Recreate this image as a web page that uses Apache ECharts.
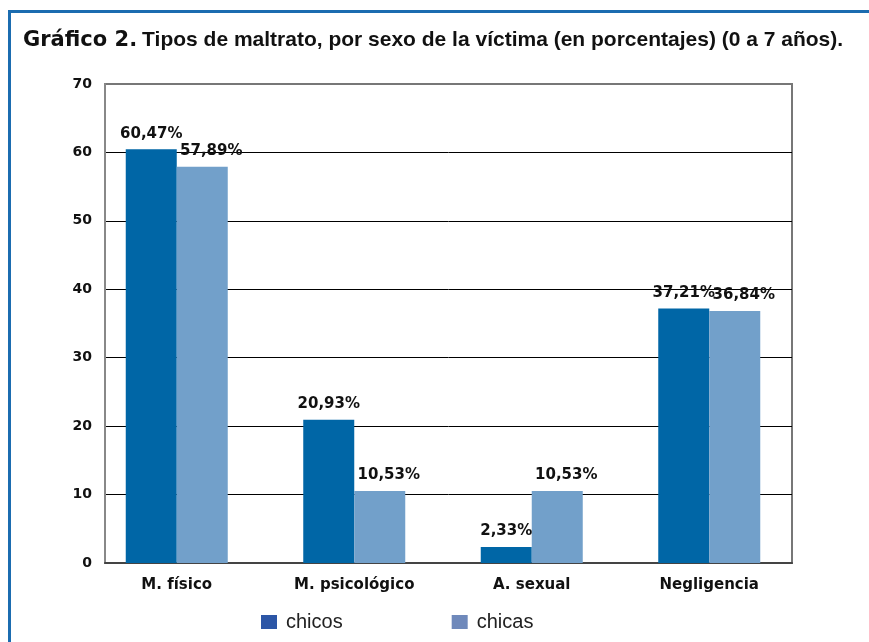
<!DOCTYPE html>
<html>
<head>
<meta charset="utf-8">
<script src="https://cdn.jsdelivr.net/npm/echarts@6/dist/echarts.min.js"></script>
<style>
  html, body { margin: 0; padding: 0; background: #fff; }
  #chart { width: 869px; height: 642px; }
</style>
</head>
<body>
<div id="chart"></div>
<script>
// categorías y valores (%)
const categorias = ['M. físico', 'M. psicológico', 'A. sexual', 'Negligencia'];
const chicos = [60.47, 20.93, 2.33, 37.21];
const chicas = [57.89, 10.53, 10.53, 36.84];
const yTicks = [0, 10, 20, 30, 40, 50, 60, 70];

const chart = echarts.init(document.getElementById('chart'));

// formato con coma decimal
const fmt = p => p.value.toFixed(2).replace('.', ',') + '%';

const boldText = { fontFamily: 'DejaVu Sans', fontWeight: 'bold', color: '#111' };

const labelStyle = Object.assign({
  show: true,
  position: 'top',
  distance: 8,
  formatter: fmt,
  fontSize: 15
}, boldText);

const yMin = yTicks[0];
const yMax = yTicks[yTicks.length - 1];

const option = {
  animation: false,
  backgroundColor: '#fff',
  title: {
    text: '{a|Gráfico 2.} {b|Tipos de maltrato, por sexo de la víctima (en porcentajes) (0 a 7 años).}',
    left: 23,
    top: 30,
    padding: 0,
    textStyle: {
      rich: {
        a: { fontFamily: 'DejaVu Sans', fontWeight: 'bold', fontSize: 21, color: '#111' },
        b: { fontFamily: 'Liberation Sans', fontWeight: 'bold', fontSize: 21, color: '#111' }
      }
    }
  },
  legend: {
    bottom: 10,
    left: 261,
    padding: 0,
    itemWidth: 16,
    itemHeight: 14,
    itemGap: 109,
    icon: 'rect',
    textStyle: { fontFamily: 'Liberation Sans', fontSize: 20, color: '#222', padding: [0, 0, 0, 4] },
    data: [
      { name: 'chicos', itemStyle: { color: '#2c56a6' } },
      { name: 'chicas', itemStyle: { color: '#6f89bb' } }
    ]
  },
  // grid 0: marco, eje Y y líneas; grid 1: barras y categorías
  grid: [
    { left: 105, right: 77, top: 84, bottom: 79, show: true, borderColor: '#777', borderWidth: 2 },
    { left: 88, right: 71, top: 84, bottom: 79 }
  ],
  xAxis: [
    {
      type: 'category', gridIndex: 0, data: categorias,
      axisLine: { lineStyle: { color: '#444', width: 2 } },
      axisTick: { show: false },
      axisLabel: { show: false }
    },
    {
      type: 'category', gridIndex: 1, data: categorias,
      axisLine: { show: false },
      axisTick: { show: false },
      axisLabel: Object.assign({ margin: 15, fontSize: 15 }, boldText)
    }
  ],
  yAxis: [
    {
      type: 'value', gridIndex: 0, min: yMin, max: yMax, interval: 10,
      axisLine: { show: true, lineStyle: { color: '#888', width: 2 } },
      axisTick: { show: false },
      splitLine: {
        lineStyle: { color: ['#444', '#000', '#000', '#000', '#000', '#000', '#000', '#777'], width: 1 }
      },
      axisLabel: Object.assign({ margin: 13, fontSize: 14 }, boldText)
    },
    {
      type: 'value', gridIndex: 1, min: yMin, max: yMax, interval: 10,
      show: false
    }
  ],
  series: [
    {
      name: 'chicos',
      type: 'bar',
      xAxisIndex: 1,
      yAxisIndex: 1,
      data: chicos,
      barGap: '0%',
      barWidth: 51,
      itemStyle: { color: '#0066a6' },
      label: labelStyle
    },
    {
      name: 'chicas',
      type: 'bar',
      xAxisIndex: 1,
      yAxisIndex: 1,
      data: chicas,
      barWidth: 51,
      itemStyle: { color: '#72a0ca' },
      label: Object.assign({}, labelStyle, { offset: [9, 0] })
    }
  ],
  graphic: [
    // marco azul del recuadro
    { type: 'rect', left: 8, top: 10, shape: { width: 861, height: 3 }, style: { fill: '#1b6cb0' } },
    { type: 'rect', left: 8, top: 10, shape: { width: 3, height: 632 }, style: { fill: '#1b6cb0' } }
  ]
};

chart.setOption(option);
</script>
</body>
</html>
